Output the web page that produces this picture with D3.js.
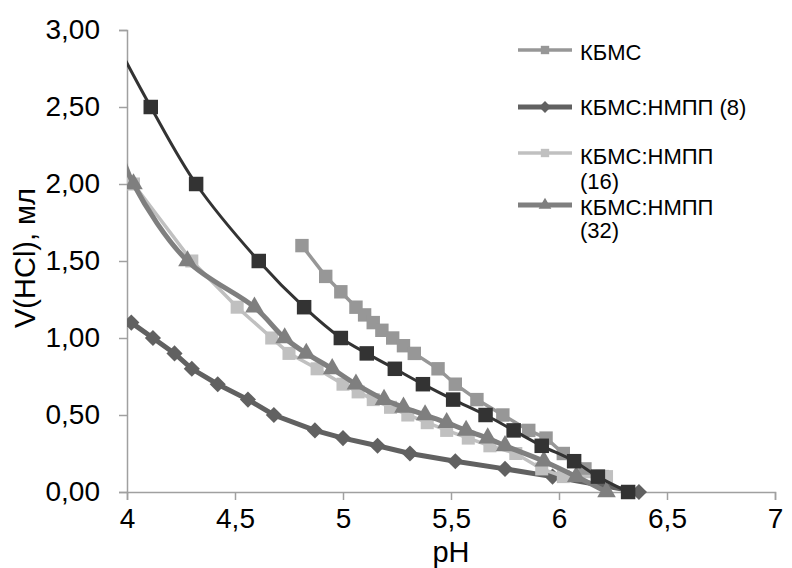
<!DOCTYPE html>
<html>
<head>
<meta charset="utf-8">
<script src="https://cdn.jsdelivr.net/npm/d3@7"></script>
<style>
  body { margin: 0; background: #fff; }
  text { font-family: "Liberation Sans", Arial, sans-serif; }
</style>
</head>
<body>
<svg id="chart" width="792" height="568"></svg>
<script>
// pH values and V(HCl) for each series
var kbmsX = [4.81, 4.92, 4.99, 5.06, 5.10, 5.14, 5.18, 5.23, 5.28, 5.33, 5.44, 5.52, 5.62, 5.74, 5.86, 5.94, 6.02, 6.12, 6.2];
var kbmsY = [1.6, 1.4, 1.3, 1.2, 1.15, 1.1, 1.05, 1.0, 0.95, 0.9, 0.8, 0.7, 0.6, 0.5, 0.4, 0.35, 0.25, 0.15, 0.1];

var n8X = [4.02, 4.12, 4.22, 4.3, 4.42, 4.56, 4.68, 4.87, 5.0, 5.16, 5.31, 5.52, 5.75, 5.97, 6.37];
var n8Y = [1.1, 1.0, 0.9, 0.8, 0.7, 0.6, 0.5, 0.4, 0.35, 0.3, 0.25, 0.2, 0.15, 0.1, 0];

var n16X = [4.03, 4.3, 4.51, 4.67, 4.75, 4.88, 5.0, 5.07, 5.14, 5.22, 5.3, 5.39, 5.48, 5.58, 5.68, 5.8, 5.92, 6.02, 6.22];
var n16Y = [2.0, 1.5, 1.2, 1.0, 0.9, 0.8, 0.7, 0.65, 0.6, 0.55, 0.5, 0.45, 0.4, 0.35, 0.3, 0.25, 0.15, 0.1, 0.1];

var n32X = [3.95, 4.03, 4.28, 4.59, 4.73, 4.83, 4.95, 5.06, 5.19, 5.28, 5.38, 5.48, 5.57, 5.67, 5.75, 5.93, 6.08, 6.22];
var n32Y = [2.3, 2.0, 1.5, 1.2, 1.0, 0.9, 0.8, 0.7, 0.6, 0.55, 0.5, 0.45, 0.4, 0.35, 0.3, 0.2, 0.1, 0];

// series without a legend entry (black squares)
var blackX = [3.9, 4.11, 4.32, 4.61, 4.82, 4.99, 5.11, 5.24, 5.37, 5.51, 5.66, 5.79, 5.92, 6.07, 6.18, 6.32];
var blackY = [3.05, 2.5, 2.0, 1.5, 1.2, 1.0, 0.9, 0.8, 0.7, 0.6, 0.5, 0.4, 0.3, 0.2, 0.1, 0];

var xTicks = [4, 4.5, 5, 5.5, 6, 6.5, 7];
var yTicks = [0, 0.5, 1, 1.5, 2, 2.5, 3];

function zip(xs, ys) {
    return xs.map(function(x, i) { return [x, ys[i]]; });
}

var svg = d3.select("#chart");

var x = d3.scaleLinear().domain([4, 7]).range([127, 775]);
var y = d3.scaleLinear().domain([0, 3]).range([492, 30]);

var comma = function(d, digits) { return d3.format("." + digits + "f")(d).replace(".", ","); };

// clip to the plot area
svg.append("defs").append("clipPath")
    .attr("id", "plot")
    .append("rect")
    .attr("x", 127).attr("y", 0)
    .attr("width", 700).attr("height", 520);

// axes
var xAxis = svg.append("g")
    .attr("transform", "translate(0,492)")
    .call(d3.axisBottom(x).tickValues(xTicks).tickSize(8).tickPadding(8)
        .tickFormat(function(d) { return d % 1 === 0 ? d : comma(d, 1); }));

var yAxis = svg.append("g")
    .attr("transform", "translate(127,0)")
    .call(d3.axisLeft(y).tickValues(yTicks).tickSize(8).tickPadding(19)
        .tickFormat(function(d) { return comma(d, 2); }));

[xAxis, yAxis].forEach(function(g) {
    g.select(".domain").attr("stroke", "#a0a0a0").attr("stroke-width", 1.5);
    g.selectAll(".tick line").attr("stroke", "#a0a0a0").attr("stroke-width", 1.5);
    g.selectAll(".tick text")
        .attr("fill", "#000")
        .style("font-size", "28px")
        .style("font-family", "'Liberation Sans', Arial, sans-serif");
});

// axis titles
svg.append("text")
    .attr("x", 451).attr("y", 562)
    .attr("text-anchor", "middle")
    .style("font-size", "29px")
    .text("pH");

svg.append("text")
    .attr("transform", "translate(35,258) rotate(-90)")
    .attr("text-anchor", "middle")
    .style("font-size", "29px")
    .text("V(HCl), мл");

var plot = svg.append("g").attr("clip-path", "url(#plot)");

var straight = d3.line().x(function(d) { return x(d[0]); }).y(function(d) { return y(d[1]); });
var smooth = d3.line().curve(d3.curveCatmullRom)
    .x(function(d) { return x(d[0]); }).y(function(d) { return y(d[1]); });

var square = d3.symbol().type(d3.symbolSquare);
var triangle = d3.symbol().type(d3.symbolTriangle);

var series = [
    { name: "КБМС", data: zip(kbmsX, kbmsY), color: "#979797", width: 3.5, line: straight, sym: square, size: 180, rot: 0 },
    { name: "КБМС:НМПП (8)", data: zip(n8X, n8Y), color: "#616161", width: 5, line: straight, sym: square, size: 130, rot: 45 },
    { name: "КБМС:НМПП (16)", data: zip(n16X, n16Y), color: "#c0c0c0", width: 3.5, line: straight, sym: square, size: 170, rot: 0 },
    { name: "КБМС:НМПП (32)", data: zip(n32X, n32Y), color: "#7f7f7f", width: 5, line: smooth, sym: triangle, size: 150, rot: 0 },
    { name: null, data: zip(blackX, blackY), color: "#333333", width: 3, line: smooth, sym: square, size: 210, rot: 0 }
];

series.forEach(function(s) {
    plot.append("path")
        .attr("d", s.line(s.data))
        .attr("fill", "none")
        .attr("stroke", s.color)
        .attr("stroke-width", s.width);
    plot.selectAll(null)
        .data(s.data)
        .enter()
        .append("path")
        .attr("transform", function(d) { return "translate(" + x(d[0]) + "," + y(d[1]) + ") rotate(" + s.rot + ")"; })
        .attr("d", s.sym.size(s.size))
        .attr("fill", s.color);
});

// legend
var legendRows = [
    { s: series[0], ly: 50, lines: ["КБМС"], ty: [52] },
    { s: series[1], ly: 107, lines: ["КБМС:НМПП (8)"], ty: [107] },
    { s: series[2], ly: 153, lines: ["КБМС:НМПП", "(16)"], ty: [156, 181] },
    { s: series[3], ly: 205, lines: ["КБМС:НМПП", "(32)"], ty: [207, 230] }
];

var legend = svg.append("g");
legendRows.forEach(function(r) {
    legend.append("line")
        .attr("x1", 518).attr("x2", 572)
        .attr("y1", r.ly).attr("y2", r.ly)
        .attr("stroke", r.s.color)
        .attr("stroke-width", r.s.width);
    legend.append("path")
        .attr("transform", "translate(545," + r.ly + ") rotate(" + r.s.rot + ")")
        .attr("d", r.s.sym.size(70))
        .attr("fill", r.s.color);
    r.lines.forEach(function(t, i) {
        legend.append("text")
            .attr("x", 580).attr("y", r.ty[i])
            .attr("dy", "0.35em")
            .style("font-size", "22px")
            .text(t);
    });
});
</script>
</body>
</html>
